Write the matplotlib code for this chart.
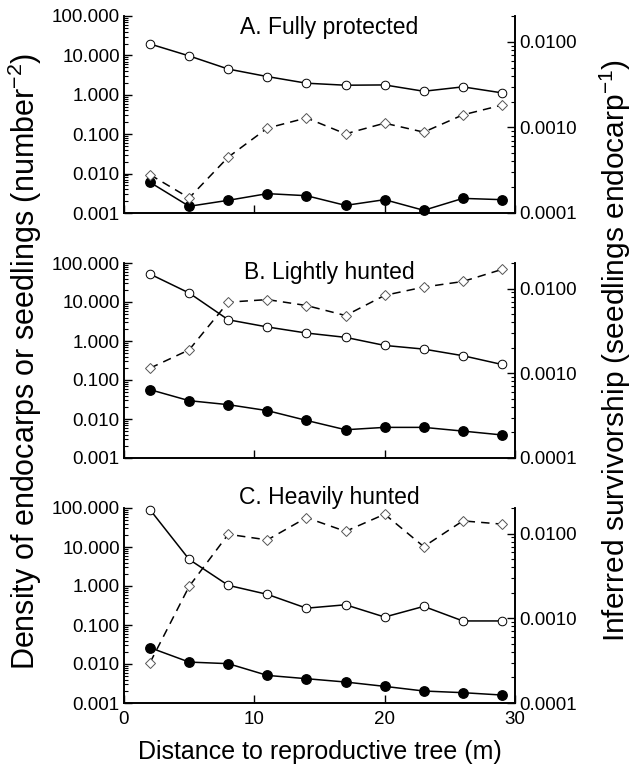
import matplotlib
matplotlib.use("Agg")
import matplotlib.pyplot as plt
from matplotlib.ticker import FixedLocator, LogLocator, NullFormatter, FuncFormatter

plt.rcParams['font.family'] = ['Liberation Sans', 'DejaVu Sans']
plt.rcParams['mathtext.fontset'] = 'custom'
plt.rcParams['mathtext.rm'] = 'Liberation Sans'
plt.rcParams['mathtext.it'] = 'Liberation Sans:italic'

# distance classes (m)
dist = [2, 5, 8, 11, 14, 17, 20, 23, 26, 29]

titles = ["A. Fully protected", "B. Lightly hunted", "C. Heavily hunted"]

# endocarp density (open circles)
endo_A = [19.5, 9.7, 4.5, 2.9, 1.97, 1.75, 1.78, 1.23, 1.59, 1.12]
endo_B = [52.0, 17.0, 3.5, 2.29, 1.6, 1.24, 0.77, 0.62, 0.42, 0.25]
endo_C = [90.0, 4.8, 1.04, 0.61, 0.27, 0.33, 0.16, 0.30, 0.127, 0.127]

# seedling density (filled circles)
seed_A = [0.0060, 0.00148, 0.0021, 0.0031, 0.00275, 0.00156, 0.00218, 0.00117, 0.00235, 0.00218]
seed_B = [0.0565, 0.0295, 0.0233, 0.0164, 0.0092, 0.0053, 0.0061, 0.0061, 0.0049, 0.0039]
seed_C = [0.0262, 0.0112, 0.0102, 0.0051, 0.0042, 0.00345, 0.00267, 0.00203, 0.00184, 0.0016]

# inferred survivorship (diamonds, right axis)
surv_A = [0.00028, 0.00015, 0.00045, 0.00098, 0.00129, 0.00084, 0.00112, 0.00088, 0.0014, 0.00182]
surv_B = [0.00115, 0.00189, 0.0069, 0.0074, 0.0063, 0.0048, 0.0083, 0.0104, 0.0121, 0.0168]
surv_C = [0.00030, 0.00238, 0.0098, 0.0084, 0.0154, 0.0106, 0.0169, 0.0070, 0.0141, 0.0129]

endo = [endo_A, endo_B, endo_C]
seed = [seed_A, seed_B, seed_C]
surv = [surv_A, surv_B, surv_C]

left_ticks = [0.001, 0.01, 0.1, 1, 10, 100]
right_ticks = [0.0001, 0.001, 0.01]

fig = plt.figure(figsize=(6.38, 7.73), dpi=100)

# axes boxes in pixels: (top, bottom)
W, H = 638, 773
x0, x1 = 124, 515
boxes = [(16, 213), (263, 458), (508, 703)]
title_y = [0.944, 0.949, 1.056]

for i, (top, bot) in enumerate(boxes):
    ax = fig.add_axes([x0 / W, 1 - bot / H, (x1 - x0) / W, (bot - top) / H])
    ax2 = ax.twinx()

    ax.plot(dist, endo[i], '-', color='black', lw=1.1, marker='o', ms=6.2,
            mfc='white', mec='black', mew=0.7, zorder=3, clip_on=False)
    ax.plot(dist, seed[i], '-', color='black', lw=1.1, marker='o', ms=6.8,
            mfc='black', mec='black', zorder=3, clip_on=False)
    ax2.plot(dist, surv[i], '--', color='black', lw=1.1, dashes=(5.5, 4),
             marker='D', ms=5.5, mfc='white', mec='#555555', mew=0.7,
             zorder=3, clip_on=False)

    ax.set_yscale('log')
    ax.set_ylim(0.001, 100)
    ax2.set_yscale('log')
    ax2.set_ylim(0.0001, 0.02)
    ax.set_xlim(0, 30)

    ax.yaxis.set_major_locator(FixedLocator(left_ticks))
    ax.yaxis.set_minor_locator(LogLocator(base=10, subs=range(2, 10), numticks=20))
    ax.yaxis.set_minor_formatter(NullFormatter())
    ax.yaxis.set_major_formatter(FuncFormatter(lambda v, p: f"{v:.3f}"))

    ax2.yaxis.set_major_locator(FixedLocator(right_ticks))
    ax2.yaxis.set_minor_locator(LogLocator(base=10, subs=range(2, 10), numticks=20))
    ax2.yaxis.set_minor_formatter(NullFormatter())
    ax2.yaxis.set_major_formatter(FuncFormatter(lambda v, p: f"{v:.4f}"))

    ax.set_xticks([0, 10, 20, 30])
    if i < 2:
        ax.set_xticklabels([])

    ax.tick_params(axis='both', which='major', direction='in', length=6,
                   width=1, labelsize=13.5, pad=3)
    ax.tick_params(axis='y', which='minor', direction='in', length=3, width=0.8)
    ax.tick_params(axis='x', which='major', top=False, pad=6)
    ax2.tick_params(axis='y', which='major', direction='in', length=6,
                    width=1, labelsize=13.5, pad=3)
    ax2.tick_params(axis='y', which='minor', direction='in', length=3, width=0.8)

    for a in (ax, ax2):
        a.spines['top'].set_visible(False)
        for s in ('left', 'right', 'bottom'):
            a.spines[s].set_linewidth(1.2)

    ax.text(0.524, title_y[i], titles[i], transform=ax.transAxes,
            ha='center', va='center', fontsize=16.5)

fig.text(0.039, 0.532, "Density of endocarps or seedlings (number$^{-2}$)",
         rotation=90, ha='center', va='center', fontsize=22)
fig.text(0.964, 0.546, "Inferred survivorship (seedlings endocarp$^{-1}$)",
         rotation=90, ha='center', va='center', fontsize=21.5)
fig.text((x0 + x1) / 2 / W, 1 - 752 / H, "Distance to reproductive tree (m)",
         ha='center', va='center', fontsize=18)

fig.savefig("out.png", dpi=100)
